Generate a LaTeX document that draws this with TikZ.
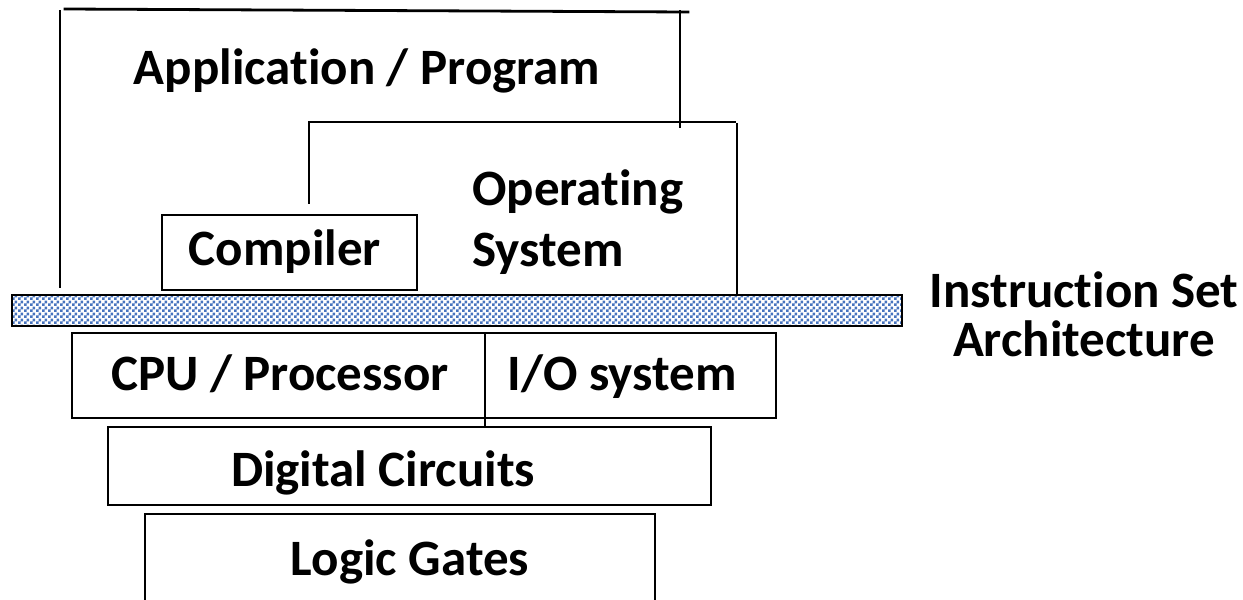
\documentclass[tikz,border=0pt]{standalone}
\usepackage{fontspec}
\setmainfont{Carlito}[RawFeature={-liga}]
\usetikzlibrary{patterns}
\pgfdeclarepatternformonly{checker}{\pgfqpoint{0pt}{0pt}}{\pgfqpoint{6pt}{6pt}}{\pgfqpoint{6pt}{6pt}}{%
  \pgfpathrectangle{\pgfqpoint{0pt}{0pt}}{\pgfqpoint{3pt}{3pt}}%
  \pgfpathrectangle{\pgfqpoint{3pt}{3pt}}{\pgfqpoint{3pt}{3pt}}%
  \pgfusepath{fill}}
\definecolor{isablue}{RGB}{70,115,190}
\tikzset{
  ln/.style={line width=2.8pt, line cap=rect},
  box/.style={line width=2.8pt},
  lbl/.style={font=\fontsize{51}{60}\selectfont\bfseries, anchor=base, inner sep=0pt},
}
\begin{document}
\begin{tikzpicture}[x=1pt,y=-1pt]
\useasboundingbox (0,0) rectangle (1243,600);
% Application / Program bracket
\draw[ln] (65,9) -- (688,12);
\draw[ln] (60,11) -- (60,287);
\draw[ln] (680,11) -- (680,127);
% Operating system bracket
\draw[ln] (309,203) -- (309,122) -- (735,122);
\draw[ln] (737,124) -- (737,294);
% Compiler box
\draw[box] (162,215) rectangle (417,290);
% ISA bar
\draw[box, fill=white, pattern=checker, pattern color=isablue] (12,295) rectangle (902,326);
% CPU / IO
\draw[box] (72,333) rectangle (776,418);
\draw[ln] (485,333) -- (485,427);
% Digital circuits
\draw[box] (108,427) rectangle (711,505);
% Logic gates (open bottom)
\draw[ln] (145,610) -- (145,514) -- (655,514) -- (655,610);
% labels
\node[lbl] (app) at (367,84) {Application / Program};
\node[lbl, anchor=base west] (os1) at (472,205) {Operating};
\node[lbl, anchor=base west] (os2) at (472,266) {System};
\node[lbl] (comp) at (285,265) {Compiler};
\node[lbl] (isa1) at (1084,307) {Instruction Set};
\node[lbl] (isa2) at (1084,356) {Architecture};
\node[lbl] (cpu) at (280,390) {CPU / Processor};
\node[lbl] (io) at (622,390) {I/O system};
\node[lbl] (dig) at (383,486) {Digital Circuits};
\node[lbl] (logic) at (410,575) {Logic Gates};
\end{tikzpicture}
\end{document}
